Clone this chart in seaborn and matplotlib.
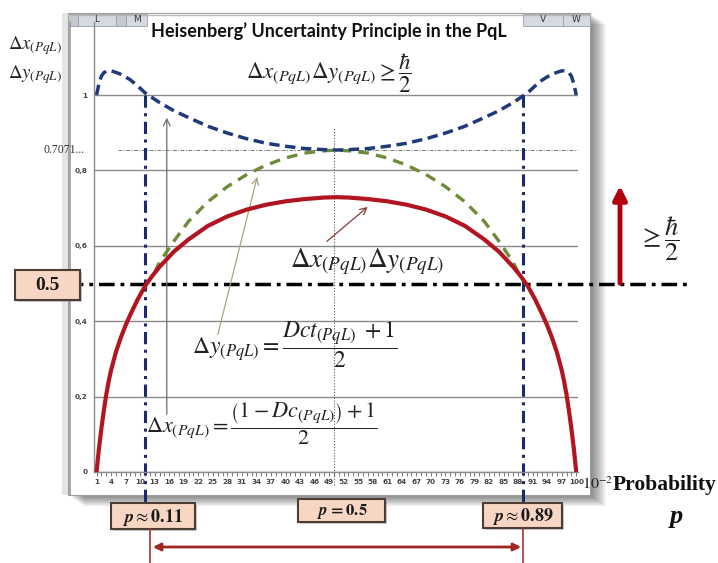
import numpy as np
import pandas as pd
import matplotlib
matplotlib.use("Agg")
import matplotlib.pyplot as plt
from matplotlib.patches import Rectangle, FancyArrowPatch
from matplotlib.ticker import MultipleLocator
import seaborn as sns

# ---- data (probability in units of 10^-2) ----
p_pct = [1, 1.5, 2, 2.5, 3, 3.5, 4, 5, 6, 7, 8, 9.5, 11, 12.5, 14, 17, 20, 24, 28, 32,
         36, 40, 44, 48, 50.5, 53, 57, 61, 65, 69, 73, 77, 81, 84, 87, 88.5, 90, 91.5,
         93, 94, 95, 96, 97, 97.5, 98, 98.5, 99, 99.5, 100]
delta_x = [1.0, 1.03, 1.05, 1.059, 1.063, 1.064, 1.064, 1.06, 1.055, 1.048, 1.04, 1.024,
           1.006, 0.993, 0.98, 0.958, 0.94, 0.917, 0.899, 0.884, 0.872, 0.864, 0.858,
           0.855, 0.854,
           0.855, 0.858, 0.864, 0.872, 0.884, 0.899, 0.917, 0.94, 0.958, 0.98, 0.993,
           1.006, 1.024, 1.04, 1.048, 1.055, 1.06, 1.064, 1.064, 1.063, 1.059, 1.05,
           1.03, 1.0]
product_xy = [0.0, 0.062, 0.115, 0.162, 0.205, 0.24, 0.27, 0.318, 0.356, 0.389, 0.418,
              0.458, 0.493, 0.52, 0.544, 0.585, 0.617, 0.653, 0.678, 0.696, 0.709, 0.718,
              0.724, 0.728, 0.729,
              0.728, 0.724, 0.718, 0.709, 0.696, 0.678, 0.653, 0.617, 0.585, 0.544, 0.52,
              0.493, 0.458, 0.418, 0.389, 0.356, 0.318, 0.27, 0.24, 0.205, 0.162, 0.115,
              0.062, 0.0]
p_pct_y = [13, 14, 17, 20, 24, 28, 32, 36, 40, 44, 48, 50.5,
           53, 57, 61, 65, 69, 73, 77, 81, 84, 87, 88]
delta_y = [0.53, 0.556, 0.613, 0.665, 0.717, 0.757, 0.789, 0.814, 0.833, 0.846, 0.852, 0.854,
           0.852, 0.846, 0.833, 0.814, 0.789, 0.757, 0.717, 0.665, 0.613, 0.556, 0.53]

x_ticks = list(range(1, 101, 3))
y_ticks = [0, 0.2, 0.4, 0.6, 0.8, 1.0]
y_tick_labels = ["0", "0,2", "0,4", "0,6", "0,8", "1"]
p_marks = [0.11, 0.5, 0.89]
p_mark_labels = [r"$\mathbfit{p}\approx\mathbf{0.11}$", r"$\mathbfit{p}\,\mathbf{=0.5}$",
                 r"$\mathbfit{p}\approx\mathbf{0.89}$"]
threshold = 0.5
label_7071 = "0.7071"

df = pd.DataFrame({"p": p_pct, "dx": delta_x, "prod": product_xy})
df_y = pd.DataFrame({"p": p_pct_y, "dy": delta_y})

sns.set_theme(style="white")
plt.rcParams["mathtext.fontset"] = "stix"
plt.rcParams["font.family"] = ["DejaVu Sans"]

W, H = 718, 563
fig = plt.figure(figsize=(W / 100, H / 100), dpi=100)


def fx(px):
    return px / W


def fy(py):
    return 1 - py / H


# ---- background: slide, chart frame with shadow, sheet header ----
bg = fig.add_axes([0, 0, 1, 1], zorder=0)
bg.set_xlim(0, W)
bg.set_ylim(H, 0)
bg.axis("off")
for i in range(1, 17):
    bg.add_patch(Rectangle((68 + i, 13 + i * 0.7), 522, 482, facecolor="black",
                           alpha=0.035, lw=0))
bg.add_patch(Rectangle((62, 13), 6, 482, facecolor="#e4e4e4", lw=0))
bg.add_patch(Rectangle((68, 13), 522, 482, facecolor="white", edgecolor="#a0a0a0", lw=0.8))
bg.plot([68, 590], [14.5, 14.5], color="#b8b8b8", lw=1)
for x0, w, lab in [(68, 10, ""), (78, 38, "L"), (116, 10, ""), (126, 21, "M"),
                   (523, 40, "V"), (563, 27, "W")]:
    bg.add_patch(Rectangle((x0, 14), w, 12, facecolor="#d5dae0" if lab else "#c4c9cf",
                           edgecolor="#9aa0a8", lw=0.6))
    if lab:
        bg.text(x0 + w / 2, 20, lab, ha="center", va="center", fontsize=6.5,
                color="#333", family="DejaVu Sans")

# ---- main chart axes ----
x0_px, x1_px, y0_px, ytop_px = 94.1, 577.7, 472, 22
ppu = 377.0
ax = fig.add_axes([fx(x0_px), fy(y0_px), (x1_px - x0_px) / W, (y0_px - ytop_px) / H], zorder=1)
ax.patch.set_alpha(0)
ax.set_xlim(0.5, 100.3)
ax.set_ylim(0, (y0_px - ytop_px) / ppu)

for s in ["top", "right"]:
    ax.spines[s].set_visible(False)
for s in ["left", "bottom"]:
    ax.spines[s].set_color("#8c8c8c")
    ax.spines[s].set_linewidth(1)

ax.set_yticks(y_ticks)
ax.set_yticklabels(y_tick_labels, fontsize=5.2, fontweight="bold", color="#444")
ax.tick_params(axis="y", length=0, pad=5)
ax.yaxis.grid(True, color="#8a8a8a", lw=1)
ax.set_xticks(x_ticks)
ax.set_xticklabels([str(t) for t in x_ticks], fontsize=5.2, fontweight="bold", color="#444")
ax.xaxis.set_minor_locator(MultipleLocator(1))
ax.tick_params(axis="x", which="both", direction="out", length=3, width=0.7,
               color="#777", pad=2, bottom=True)

# reference lines
ax.plot([50, 50], [-0.035, 0.915], color="#555", lw=0.8, ls=(0, (1, 1.6)), clip_on=False)
ymin_dx = min(delta_x)
ax.plot([5.4, 100.3], [ymin_dx, ymin_dx], color="#777", lw=0.7, ls=(0, (4, 1.5, 1, 1.5)))
for pm in (p_marks[0], p_marks[2]):
    ax.plot([pm * 100, pm * 100], [1.0, -0.082], color="#1b2a6b", lw=2.2,
            ls=(0, (4, 1.8, 1, 1.8)), clip_on=False)
ax.plot([-0.12, 1.232], [threshold, threshold], transform=ax.get_yaxis_transform(),
        color="black", lw=2.5, ls=(0, (4.5, 1.7, 1.1, 1.7)), clip_on=False, zorder=3)

# curves
sns.lineplot(data=df_y, x="p", y="dy", ax=ax, color="#6f8a3a", lw=2.4,
             linestyle=(0, (3.2, 2.2)), sort=False, zorder=4)
sns.lineplot(data=df, x="p", y="dx", ax=ax, color="#1f3a78", lw=2.5,
             linestyle=(0, (3, 1.6)), sort=False, zorder=4)
sns.lineplot(data=df, x="p", y="prod", ax=ax, color="#b01520", lw=3.0, sort=False, zorder=5)
ax.set_xlabel("")
ax.set_ylabel("")

# pointer arrows from the formulas to their curves
ax.annotate("", xy=(15.5, 0.947), xytext=(15.5, 0.146),
            arrowprops=dict(arrowstyle="->", color="#6d6d6d", lw=0.9))
ax.annotate("", xy=(34.3, 0.79), xytext=(25.9, 0.358),
            arrowprops=dict(arrowstyle="->", color="#a4a77c", lw=0.9))
ax.annotate("", xy=(57.4, 0.708), xytext=(48.1, 0.607),
            arrowprops=dict(arrowstyle="->", color="#8b3a3a", lw=0.9))

# ruler on the left edge of the frame
axr = fig.add_axes([fx(70), fy(495), 0.0005, (495 - ytop_px) / H], zorder=1)
axr.patch.set_alpha(0)
axr.set_ylim((y0_px - 495) / ppu, (y0_px - ytop_px) / ppu)
for s in ["top", "right", "bottom"]:
    axr.spines[s].set_visible(False)
axr.spines["left"].set_color("#9a9a9a")
axr.set_xticks([])
axr.yaxis.set_major_locator(MultipleLocator(0.05))
axr.tick_params(axis="y", direction="inout", length=4, width=0.6, color="#999",
                labelleft=False)

# ---- foreground texts and boxes ----
fg = fig.add_axes([0, 0, 1, 1], zorder=2)
fg.set_xlim(0, W)
fg.set_ylim(H, 0)
fg.axis("off")
fg.patch.set_alpha(0)

fg.text(329, 31, "Heisenberg\u2019 Uncertainty Principle in the PqL", ha="center",
        va="center", fontsize=13, fontweight="bold", family="Lato", color="#111")
fg.text(329, 73, r"$\Delta x_{(PqL)}\Delta y_{(PqL)} \geq \dfrac{\hbar}{2}$",
        ha="center", va="center", fontsize=16.5, color="#222")
fg.text(35, 46, r"$\Delta x_{(PqL)}$", ha="center", va="center", fontsize=13.5, color="#222")
fg.text(35, 75, r"$\Delta y_{(PqL)}$", ha="center", va="center", fontsize=13.5, color="#222")
fg.text(44, 150, label_7071 + "...", ha="left", va="center", fontsize=8.5,
        family="Liberation Serif", color="#333")
fg.text(367, 262, r"$\Delta x_{(PqL)}\Delta y_{(PqL)}$", ha="center", va="center",
        fontsize=19.5, color="#222")
fg.text(295, 345, r"$\Delta y_{(PqL)} = \dfrac{Dct_{(PqL)}\;+1}{2}$", ha="center",
        va="center", fontsize=17, color="#222")
fg.text(262, 424, r"$\Delta x_{(PqL)} = \dfrac{\left(1 - Dc_{(PqL)}\right)+1}{2}$",
        ha="center", va="center", fontsize=16, color="#222")
fg.text(659, 239, r"$\geq \dfrac{\hbar}{2}$", ha="center", va="center", fontsize=19,
        color="#222")
fg.text(598, 484, r"$10^{-2}$", ha="center", va="center", fontsize=11.5, color="#222")
fg.text(613, 485, "Probability", ha="left", va="center", fontsize=15.5, fontweight="bold",
        family="Liberation Serif", color="#111")
fg.text(677, 517, "p", ha="center", va="center", fontsize=19, fontweight="bold",
        fontstyle="italic", family="Liberation Serif", color="#111")

# red arrow: product above the threshold
fg.add_patch(FancyArrowPatch((620, 286), (620, 183), arrowstyle="-|>", mutation_scale=20,
                             color="#b0000f", lw=3.5))


def label_box(x0, y0, x1, y1, text, size):
    fg.add_patch(Rectangle((x0 + 2, y0 + 2), x1 - x0, y1 - y0, facecolor="#999", lw=0,
                           alpha=0.5))
    fg.add_patch(Rectangle((x0, y0), x1 - x0, y1 - y0, facecolor="#f7d6c3",
                           edgecolor="#4d3d35", lw=1.5))
    fg.text((x0 + x1) / 2, (y0 + y1) / 2 + 1, text, ha="center", va="center",
            fontsize=size, color="#1a1a1a", fontweight="bold", family="Liberation Serif")


label_box(15, 270, 80, 300, "0.5", 14)
label_box(111, 503, 195, 529, p_mark_labels[0], 13)
label_box(298, 499, 385, 522, p_mark_labels[1], 12)
label_box(483, 503, 562, 528, p_mark_labels[2], 13)

# interval of p where the product stays above the threshold
for xv, ytop in [(150, 529), (523, 528)]:
    fg.plot([xv, xv], [ytop, 563], color="#a83030", lw=1.2)
fg.add_patch(FancyArrowPatch((150, 547), (524, 547), arrowstyle="<|-|>", mutation_scale=11,
                             color="#a02525", lw=2))

fig.savefig("out.png", dpi=100)
